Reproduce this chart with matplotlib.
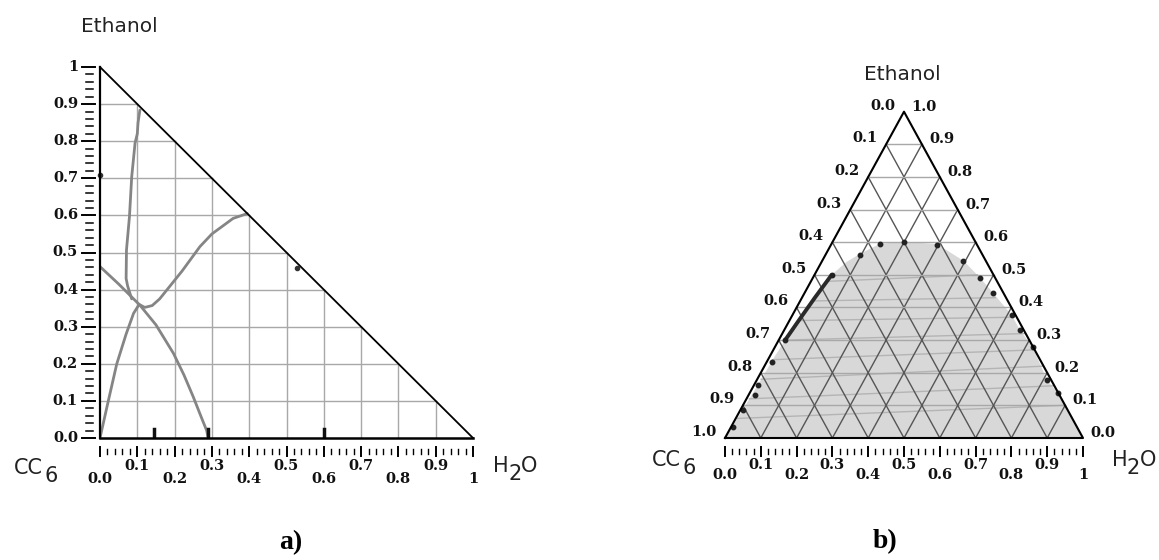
import numpy as np
import matplotlib
matplotlib.use('Agg')
import matplotlib.pyplot as plt

# ---- panel a) curves, x = H2O fraction, y = Ethanol fraction ----
c1_x = [0.085, 0.074, 0.070, 0.071, 0.079, 0.085, 0.094, 0.100, 0.102, 0.107]
c1_y = [0.375, 0.410, 0.430, 0.507, 0.597, 0.704, 0.795, 0.820, 0.850, 0.884]

c2_x = [0.0, 0.05, 0.107, 0.15, 0.197, 0.225, 0.25, 0.27, 0.286, 0.29]
c2_y = [0.462, 0.415, 0.358, 0.305, 0.228, 0.17, 0.111, 0.06, 0.02, 0.0]

c3_x = [0.0, 0.02, 0.045, 0.07, 0.09, 0.105, 0.12, 0.14, 0.16, 0.18, 0.22, 0.268, 0.30, 0.357, 0.395]
c3_y = [0.0, 0.09, 0.20, 0.28, 0.336, 0.36, 0.352, 0.357, 0.375, 0.40, 0.45, 0.516, 0.55, 0.592, 0.605]

marks_x = [0.145, 0.29, 0.60]          # small dark marks on the base
dot_a_x = [0.527, 0.0]
dot_a_y = [0.457, 0.71]

# ---- panel b) ternary data, w = H2O fraction, e = Ethanol fraction ----
bin_w = [0.0, 0.004, 0.007, 0.010, 0.012, 0.014, 0.018, 0.026, 0.036, 0.048, 0.070, 0.096,
         0.135, 0.200, 0.295, 0.395, 0.467, 0.526, 0.612, 0.658, 0.720, 0.810, 0.861, 1.0]
bin_e = [0.0, 0.05, 0.10, 0.15, 0.20, 0.25, 0.30, 0.36, 0.43, 0.50, 0.54, 0.565,
         0.595, 0.602, 0.594, 0.543, 0.491, 0.445, 0.377, 0.331, 0.279, 0.178, 0.138, 0.0]

pts_w = [0.135, 0.199, 0.295, 0.395, 0.467, 0.526, 0.612, 0.658, 0.720, 0.810, 0.861,
         0.096, 0.048, 0.018, 0.013, 0.010, 0.018, 0.007, 0.005]
pts_e = [0.595, 0.601, 0.592, 0.541, 0.491, 0.445, 0.377, 0.331, 0.279, 0.178, 0.138,
         0.561, 0.500, 0.301, 0.234, 0.163, 0.132, 0.086, 0.034]

thick_w = [0.018, 0.026, 0.036, 0.048]
thick_e = [0.30, 0.36, 0.43, 0.50]

tie_lw = [0.005, 0.008, 0.011, 0.013, 0.018, 0.026, 0.034, 0.045]
tie_le = [0.06, 0.12, 0.18, 0.24, 0.30, 0.36, 0.42, 0.48]
tie_rw = [0.895, 0.838, 0.776, 0.728, 0.676, 0.620, 0.540, 0.455]
tie_re = [0.10, 0.16, 0.22, 0.27, 0.32, 0.37, 0.43, 0.50]

levels = [k / 10 for k in range(1, 10)]
tick_lab = ['0.0', '0.1', '0.2', '0.3', '0.4', '0.5', '0.6', '0.7', '0.8', '0.9', '1']
side_lab = ['0.0', '0.1', '0.2', '0.3', '0.4', '0.5', '0.6', '0.7', '0.8', '0.9', '1.0']

W, H = 1159, 560
tick_font = dict(family='DejaVu Serif', weight='bold', size=10.5, color='#111111')
name_font = dict(family='DejaVu Sans', size=15, color='#222222')


def tern(w, e):
    w = np.asarray(w, float)
    e = np.asarray(e, float)
    return w + 0.5 * e, e


def bottom_scale(ax, sy, y_even, y_odd):
    # ticks sit a few pixels below the base line
    for i in range(51):
        v = i * 0.02
        major = i % 5 == 0
        y0 = -((447 if major else 449) - 438) / sy
        y1 = -((456 if major else 454) - 438) / sy
        ax.plot([v, v], [y0, y1], color='black', lw=1.4 if major else 1.0, clip_on=False)
    for k, lab in enumerate(tick_lab):
        y = -((y_even if k % 2 == 0 else y_odd) - 438) / sy
        ax.text(k / 10, y, lab, ha='center', va='center', **tick_font)


fig = plt.figure(figsize=(W / 100, H / 100), dpi=100)

# ================= panel a =================
sxa, sya = 373.0, 371.0
axA = fig.add_axes([100 / W, 1 - 438 / H, sxa / W, sya / H])
axA.set_xlim(0, 1)
axA.set_ylim(0, 1)
axA.axis('off')

for v in levels:
    axA.plot([v, v], [0, 1 - v], color='#a8a8a8', lw=1.0, zorder=1)
    axA.plot([0, 1 - v], [v, v], color='#a8a8a8', lw=1.0, zorder=1)

for cx, cy in [(c1_x, c1_y), (c2_x, c2_y), (c3_x, c3_y)]:
    axA.plot(cx, cy, color='#858585', lw=2.0, zorder=3, solid_capstyle='round')

for mx in marks_x:
    axA.plot([mx, mx], [0, 0.025], color='#111111', lw=2.5, zorder=4)
axA.plot(dot_a_x, dot_a_y, 'o', color='#333333', ms=3, zorder=4, clip_on=False)

axA.plot([0, 0], [0, 1], color='black', lw=1.6, zorder=5, clip_on=False)
axA.plot([0, 1], [0, 0], color='black', lw=1.8, zorder=5, clip_on=False)
axA.plot([0, 1], [1, 0], color='black', lw=1.3, zorder=5, clip_on=False)

# left scale with a small gap to the axis line
for i in range(51):
    v = i * 0.02
    major = i % 5 == 0
    x0 = -(100 - (82 if major else 86)) / sxa
    x1 = -(100 - (95 if major else 93)) / sxa
    axA.plot([x0, x1], [v, v], color='black', lw=1.4 if major else 1.1, clip_on=False)
for k, lab in enumerate(tick_lab):
    axA.text(-(100 - 78) / sxa, k / 10, lab, ha='right', va='center', **tick_font)

bottom_scale(axA, sya, 479, 466)

# ================= panel b =================
sxb, syb = 358.0, 326.3
axB = fig.add_axes([725 / W, 1 - 438 / H, sxb / W, syb / H])
axB.set_xlim(0, 1)
axB.set_ylim(0, 1)
axB.axis('off')

bx, by = tern(bin_w, bin_e)
axB.fill(bx, by, color='#d8d8d8', lw=0, zorder=1)
for lw_, le_, rw_, re_ in zip(tie_lw, tie_le, tie_rw, tie_re):
    tx, ty = tern([lw_, rw_], [le_, re_])
    axB.plot(tx, ty, color='#b4b4b4', lw=1.0, zorder=2)

for v in levels:
    x, y = tern([0, 1 - v], [v, v])
    axB.plot(x, y, color='#a8a8a8', lw=1.0, zorder=3)
    x, y = tern([v, v], [0, 1 - v])
    axB.plot(x, y, color='#555555', lw=1.0, zorder=3)
    x, y = tern([1 - v, 0], [0, 1 - v])
    axB.plot(x, y, color='#555555', lw=1.0, zorder=3)

tx, ty = tern(thick_w, thick_e)
axB.plot(tx, ty, color='#2a2a2a', lw=2.8, zorder=4, solid_capstyle='round')
px_, py_ = tern(pts_w, pts_e)
axB.plot(px_, py_, 'o', color='#222222', ms=3.2, zorder=5)

ox, oy = tern([0, 1, 0, 0], [0, 0, 1, 0])
axB.plot(ox, oy, color='black', lw=1.5, zorder=6, clip_on=False)

for k, lab in enumerate(side_lab):
    e = 1 - k / 10
    axB.annotate(lab, tern(0, e), xytext=(-21 * 0.72, 6 * 0.72), textcoords='offset points',
                 ha='center', va='center', **tick_font)
    axB.annotate(side_lab[10 - k], tern(1 - e, e), xytext=(20 * 0.72, 5 * 0.72),
                 textcoords='offset points', ha='center', va='center', **tick_font)

bottom_scale(axB, syb, 475, 465)

# ---- component names and panel letters ----
def ftext(x, y, s, **kw):
    fig.text(x / W, 1 - y / H, s, **kw)

ftext(119, 26, 'Ethanol', ha='center', va='center', family='DejaVu Sans', size=14.5, color='#222222')
ftext(902, 75, 'Ethanol', ha='center', va='center', family='DejaVu Sans', size=14.5, color='#222222')

for x0, yc in [(14, 468), (652, 460)]:
    ftext(x0, yc, 'CC', ha='left', va='center', **name_font)
    ftext(x0 + 31, yc + 8, '6', ha='left', va='center', **name_font)
for x0, yc in [(493, 466), (1112, 460)]:
    ftext(x0, yc, 'H', ha='left', va='center', **name_font)
    ftext(x0 + 15, yc + 8, '2', ha='left', va='center', **name_font)
    ftext(x0 + 28, yc, 'O', ha='left', va='center', **name_font)

ftext(291, 543, 'a)', ha='center', va='center', family='Liberation Serif', weight='bold', size=20)
ftext(885, 542, 'b)', ha='center', va='center', family='Liberation Serif', weight='bold', size=20)

fig.savefig('out.png', dpi=100, facecolor='white')
